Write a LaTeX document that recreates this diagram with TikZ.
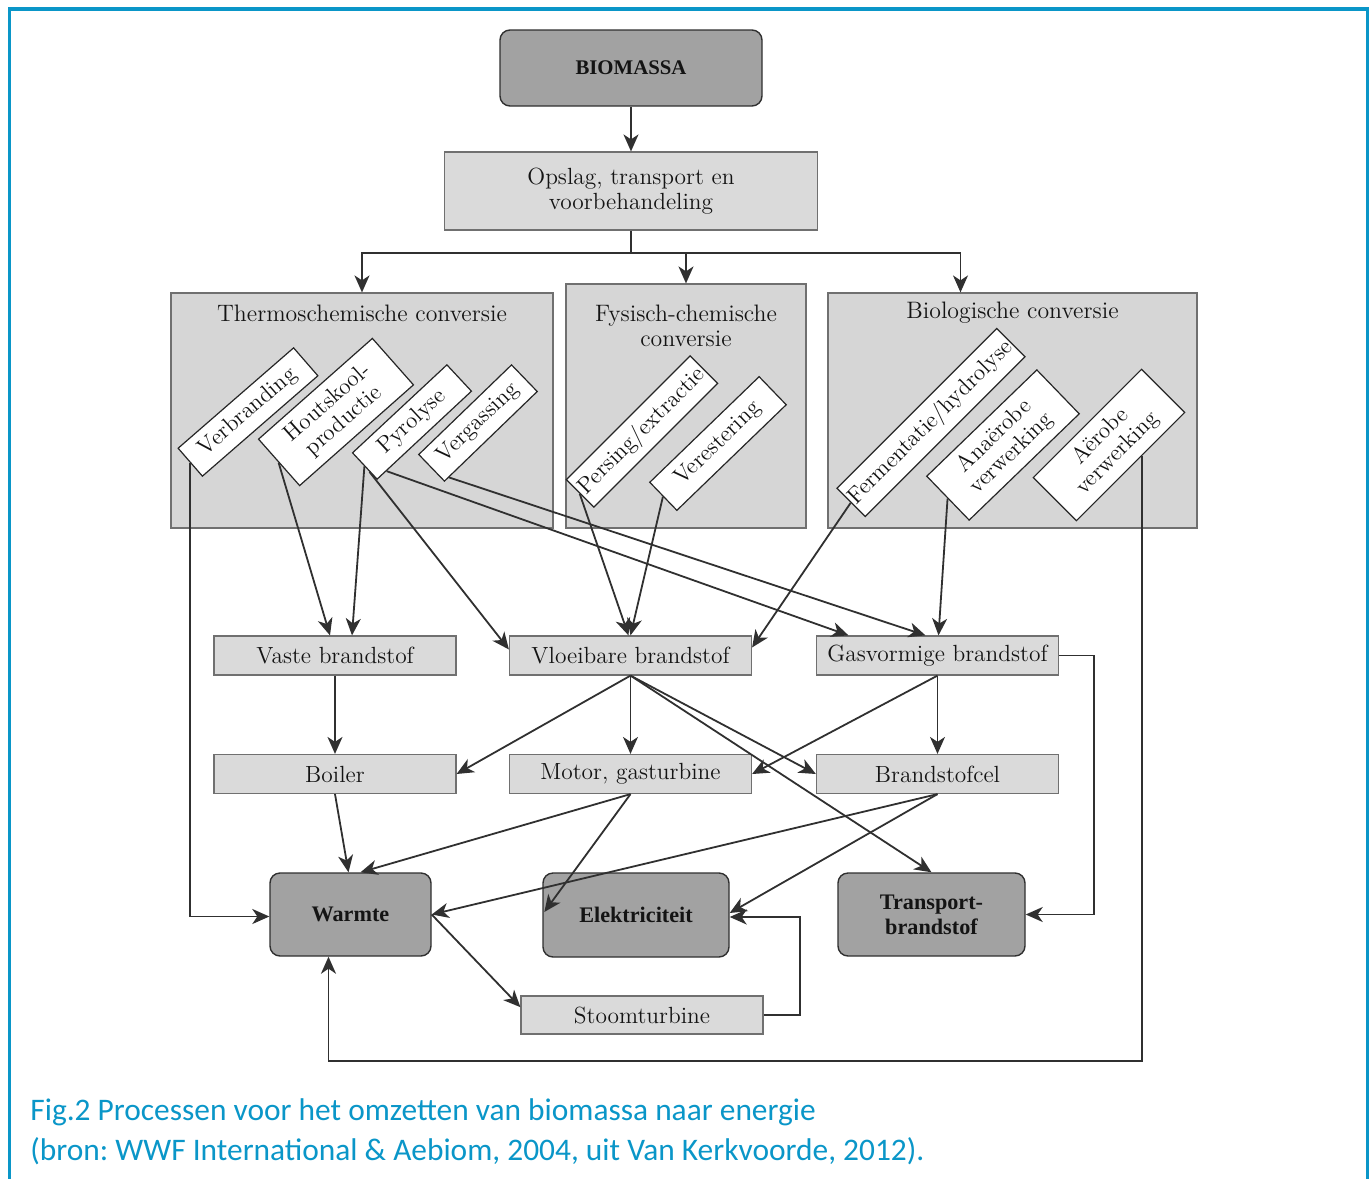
\documentclass[tikz,border=0pt]{standalone}
\usepackage{fontspec}
\newfontfamily\capfont{Carlito}
\newfontfamily\boldserif{Liberation Serif}
\usetikzlibrary{arrows.meta,calc,positioning}
\definecolor{framecol}{HTML}{0A96C8}
\definecolor{linecol}{HTML}{303030}
\definecolor{lightfill}{HTML}{DADADA}
\definecolor{groupfill}{HTML}{D6D6D6}
\definecolor{darkfill}{HTML}{A2A2A2}
\definecolor{bordercol}{HTML}{707070}
\tikzset{
  base/.style={inner sep=0pt, align=center, text=black!92, font=\fontsize{11.7}{12.8}\selectfont},
  light/.style={base, draw=bordercol, fill=lightfill, line width=0.6pt, minimum width=121pt, minimum height=19.5pt},
  dark/.style={base, draw=linecol, fill=darkfill, line width=0.7pt, rounded corners=5pt, font=\boldserif\bfseries\fontsize{11.1}{12.6}\selectfont},
  group/.style={draw=bordercol, fill=groupfill, line width=0.6pt, inner sep=0pt},
  title/.style={base, font=\fontsize{11.9}{12.8}\selectfont},
  rot/.style={base, draw=black!85, fill=white, line width=0.6pt, font=\fontsize{11.5}{12}\selectfont},
  arr/.style={draw=linecol, line width=0.9pt, -{Stealth[length=8.5pt,width=7.5pt,inset=2.5pt]}},
  ln/.style={draw=linecol, line width=0.9pt},
}
\begin{document}
\frenchspacing
\begin{tikzpicture}[x=0.5pt,y=-0.5pt]
\useasboundingbox (0,0) rectangle (1372,1179);
% frame
\draw[framecol, line width=1.6pt] (9.5,1179) -- (9.5,9) -- (1367.5,9) -- (1367.5,1179);

% top
\node[dark, minimum width=131pt, minimum height=38pt, font=\boldserif\bfseries\fontsize{10.4}{12}\selectfont] (bio) at (631,68) {BIOMASSA};
\node[light, minimum width=186.5pt, minimum height=39pt] (opslag) at (631,191) {Opslag, transport en\\voorbehandeling};

% groups
\node[group, minimum width=191pt, minimum height=117.5pt] (thermo) at (362,410.5) {};
\node[group, minimum width=120pt, minimum height=122pt] (fys) at (686,406) {};
\node[group, minimum width=184.5pt, minimum height=117.5pt] (biol) at (1012.5,410.5) {};
\node[title] (thermoT) at (362,313) {Thermoschemische conversie};
\node[title] (fysT) at (686,326) {Fysisch-chemische\\conversie};
\node[title] (biolT) at (1012.5,313) {Biologische conversie};

% rotated process boxes
\node[rot, rotate=41, minimum width=76.5pt, minimum height=18.5pt] (verb) at (248,412) {Verbranding};
\node[rot, rotate=41.5, minimum width=76pt, minimum height=31pt] (hout) at (336,412) {Houtskool-\\productie};
\node[rot, rotate=43, minimum width=64.5pt, minimum height=18pt] (pyro) at (412,422) {Pyrolyse};
\node[rot, rotate=44, minimum width=64.5pt, minimum height=18.5pt] (verg) at (478,423) {Vergassing};
\node[rot, rotate=45, minimum width=87.5pt, minimum height=19.5pt] (pers) at (642,431.5) {Persing/extractie};
\node[rot, rotate=44, minimum width=76pt, minimum height=19.5pt] (vere) at (718,443.5) {Verestering};
\node[rot, rotate=45, minimum width=113pt, minimum height=20pt] (ferm) at (931,422.5) {Fermentatie/hydrolyse};
\node[rot, rotate=44, minimum width=76.5pt, minimum height=30.5pt] (anae) at (1003,445) {Anaërobe\\verwerking};
\node[rot, rotate=45, minimum width=76.5pt, minimum height=30.5pt] (aero) at (1109,445) {Aërobe\\verwerking};

% fuel boxes
\node[light] (vaste) at (335,655.5) {Vaste brandstof};
\node[light] (vloe) at (630.5,655.5) {Vloeibare brandstof};
\node[light] (gas) at (937.5,655.5) {Gasvormige brandstof};
\node[light] (boiler) at (335,774) {Boiler};
\node[light] (motor) at (630.5,774) {Motor, gasturbine};
\node[light] (cel) at (937.5,774) {Brandstofcel};
\node[light, minimum height=19pt] (stoom) at (642,1015) {Stoomturbine};

% outputs
\node[dark, minimum width=80.5pt, minimum height=41.5pt] (warm) at (350.5,914.5) {Warmte};
\node[dark, minimum width=93pt, minimum height=42pt] (elek) at (636,915) {Elektriciteit};
\node[dark, minimum width=93.5pt, minimum height=41.5pt] (trans) at (931.5,914.5) {Transport-\\brandstof};

% top connectors
\draw[arr] (bio.south) -- (opslag.north);
\coordinate (split) at (631,253);
\draw[ln] (opslag.south) -- (split);
\draw[arr] (split) -| (thermo.north);
\draw[arr] (split) -| (fys.north);
\draw[arr] (split) -| ($(biol.north)+(-52,0)$);

% from conversion processes
\draw[arr] (verb.west) |- ($(warm.west)+(0,2)$);
\draw[arr] (hout.west) -- ($(vaste.north)+(-5,0)$);
\draw[arr] (pyro.west) -- ($(vaste.north)+(17,0)$);
\draw[arr] ($(pyro.west)!0.4!(pyro.south west)$) -- ($(vloe.north west)!0.35!(vloe.south west)$);
\draw[arr] ($(pyro.south west)!0.1!(pyro.south east)$) -- ($(gas.north)+(-89,0)$);
\draw[arr] ($(verg.south west)!0.05!(verg.south east)$) -- ($(gas.north)+(-12,0)$);
\draw[arr] (pers.west) -- ($(vloe.north)+(-2,0)$);
\draw[arr] (vere.west) -- (vloe.north);
\draw[arr] (ferm.west) -- ($(vloe.north east)!0.3!(vloe.south east)$);
\draw[arr] (anae.west) -- ($(gas.north)+(1,0)$);
\coordinate (aeroOut) at ($(aero.south west)!0.6!(aero.south east)$);
\draw[arr] (aeroOut) |- ($(warm.south)+(-22,104)$) -- ($(warm.south)+(-22,0)$);

% from fuels
\draw[arr] (gas.east) -- ++(35,0) |- (trans.east);
\draw[arr] (vaste.south) -- (boiler.north);
\draw[arr] (vloe.south) -- (boiler.east);
\draw[arr] (vloe.south) -- (motor.north);
\draw[arr] (vloe.south) -- (cel.west);
\draw[arr] (vloe.south) -- (trans.north);
\draw[arr] (gas.south) -- (motor.east);
\draw[arr] (gas.south) -- (cel.north);

% to outputs
\draw[arr] (boiler.south) -- ($(warm.north)+(-2,0)$);
\draw[arr] (motor.south) -- ($(warm.north)+(10,0)$);
\draw[arr] (motor.south) -- ($(elek.west)+(2,-3)$);
\draw[arr] (cel.south) -- (warm.east);
\draw[arr] (cel.south) -- ($(elek.east)+(0,-2)$);
\draw[arr] (warm.east) -- ($(stoom.north west)!0.3!(stoom.south west)$);
\draw[arr] (stoom.east) -- ++(36,0) |- ($(elek.east)+(0,2)$);

% caption
\node[anchor=base west, inner sep=0pt, text=framecol, font=\capfont\fontsize{15.7}{18}\selectfont] (cap1) at (30,1120) {Fig.2 Processen voor het omzetten van biomassa naar energie};
\node[anchor=base west, inner sep=0pt, text=framecol, font=\capfont\fontsize{15.7}{18}\selectfont] (cap2) at (30,1160) {(bron: WWF International \& Aebiom, 2004, uit Van Kerkvoorde, 2012).};
\end{tikzpicture}
\end{document}
